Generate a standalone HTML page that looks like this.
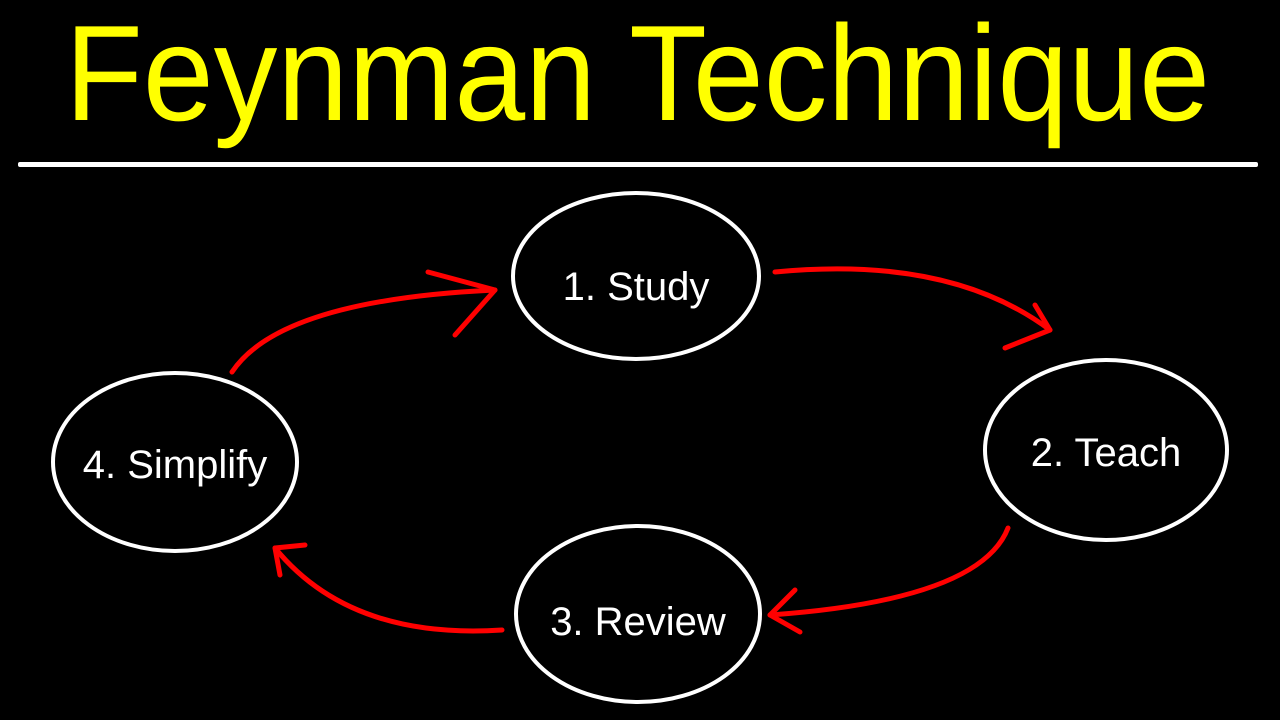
<!DOCTYPE html>
<html><head><style>html,body{margin:0;padding:0;background:#000;width:1280px;height:720px;overflow:hidden}</style></head>
<body>
<svg width="1280" height="720" viewBox="0 0 1280 720" xmlns="http://www.w3.org/2000/svg">
<rect width="1280" height="720" fill="#000"/>
<text x="65" y="120" font-family="Liberation Sans, sans-serif" font-size="136" fill="#ffff00" textLength="1145" lengthAdjust="spacingAndGlyphs">Feynman Technique</text>
<rect x="18" y="162" width="1240" height="5" rx="2" fill="#fff"/>
<g fill="none" stroke="#fff" stroke-width="4">
<ellipse cx="636" cy="276" rx="123" ry="83"/>
<ellipse cx="1106" cy="450" rx="121" ry="90"/>
<ellipse cx="638" cy="614" rx="122" ry="88"/>
<ellipse cx="175" cy="462" rx="122" ry="89"/>
</g>
<g fill="#fff" font-family="Liberation Sans, sans-serif" font-size="40" text-anchor="middle">
<text x="636" y="300">1. Study</text>
<text x="1106" y="466">2. Teach</text>
<text x="638" y="635">3. Review</text>
<text x="175" y="478">4. Simplify</text>
</g>
<g fill="none" stroke="#ff0000" stroke-width="5" stroke-linecap="round" stroke-linejoin="round">
<path d="M775 272 Q950 255 1050 330"/>
<path d="M1035 305 L1050 330 L1005 348"/>
<path d="M1008 528 Q980 600 770 615"/>
<path d="M795 590 L770 615 L800 632"/>
<path d="M502 630 Q350 640 275 548"/>
<path d="M280 575 L275 548 L305 545"/>
<path d="M232 372 Q280 300 495 290"/>
<path d="M428 272 L495 290 L455 335"/>
</g>
</svg>
</body></html>
